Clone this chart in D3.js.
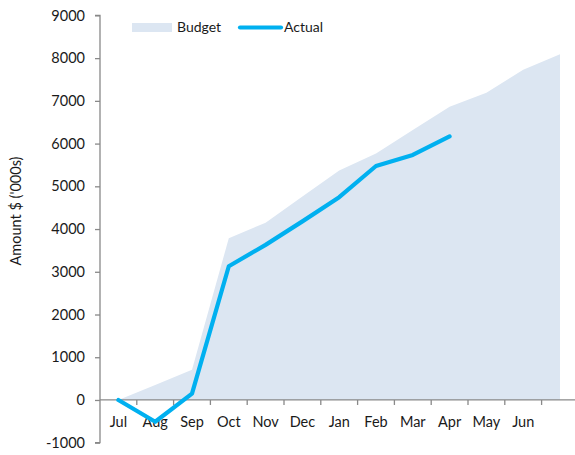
<!DOCTYPE html>
<html>
<head>
<meta charset="utf-8">
<script src="https://cdn.jsdelivr.net/npm/d3@7"></script>
<style>
  html, body { margin: 0; padding: 0; background: #fff; }
  svg { display: block; font-family: Lato, "Open Sans", sans-serif; }
</style>
</head>
<body>
<svg id="chart" width="575" height="455"></svg>
<script>
// Monthly cumulative spend, $ thousands
const months = ["Jul", "Aug", "Sep", "Oct", "Nov", "Dec", "Jan", "Feb", "Mar", "Apr", "May", "Jun", ""];
const budget = [0, 350, 705, 3785, 4150, 4760, 5370, 5770, 6320, 6860, 7190, 7730, 8090];
const actual = [0, -510, 150, 3130, 3630, 4180, 4745, 5476, 5734, 6170];
const yTicks = [-1000, 0, 1000, 2000, 3000, 4000, 5000, 6000, 7000, 8000, 9000];

const svg = d3.select("#chart");
const axisColor = "#898989";
const textColor = "#1a1a1a";

const x = d3.scaleBand().domain(months.map((m, i) => i)).range([100, 578.4]).padding(0);
const y = d3.scaleLinear().domain([-1000, 9000]).range([442.7, 15.4]);
const cx = i => x(i) + x.bandwidth() / 2;

// Budget area
const area = d3.area()
  .x((d, i) => cx(i))
  .y0(y(0))
  .y1(d => y(d));
svg.append("path")
  .datum(budget)
  .attr("d", area)
  .attr("fill", "#dce6f2");

// Y axis
const yAxis = svg.append("g")
  .attr("transform", "translate(100,0)")
  .call(d3.axisLeft(y).tickValues(yTicks).tickSize(5).tickPadding(10).tickFormat(d => String(d)));
yAxis.select(".domain").attr("stroke", axisColor).attr("stroke-width", 1.3).attr("d", `M-5,${y(-1000)}H0V${y(9000)}H-5`);
yAxis.selectAll(".tick line").attr("stroke", axisColor).attr("stroke-width", 1.3);
yAxis.selectAll(".tick text").attr("fill", textColor).style("font-size", "14.5px").style("font-family", "Lato, sans-serif");

// X axis at zero, ticks on category boundaries
const xAxis = svg.append("g")
  .attr("transform", `translate(0,${y(0)})`);
xAxis.append("line")
  .attr("x1", 100).attr("x2", 578.4)
  .attr("stroke", axisColor).attr("stroke-width", 1.3);
xAxis.selectAll("line.tk")
  .data(months.map((m, i) => i).slice(1))
  .join("line")
  .attr("class", "tk")
  .attr("x1", i => x(i)).attr("x2", i => x(i))
  .attr("y1", 0).attr("y2", 5)
  .attr("stroke", axisColor).attr("stroke-width", 1.3);
xAxis.selectAll("text")
  .data(months)
  .join("text")
  .attr("x", (d, i) => cx(i))
  .attr("y", 27)
  .attr("text-anchor", "middle")
  .attr("fill", textColor)
  .style("font-size", "14.5px")
  .text(d => d);

// Actual line
const line = d3.line()
  .x((d, i) => cx(i))
  .y(d => y(d));
svg.append("path")
  .datum(actual)
  .attr("d", line)
  .attr("fill", "none")
  .attr("stroke", "#00b0f0")
  .attr("stroke-width", 4.2)
  .attr("stroke-linejoin", "round")
  .attr("stroke-linecap", "round");

// Y axis title
svg.append("text")
  .attr("transform", "translate(21,211) rotate(-90)")
  .attr("text-anchor", "middle")
  .attr("fill", textColor)
  .style("font-size", "14.5px")
  .text("Amount $ ('000s)");

// Legend
const legend = svg.append("g");
legend.append("rect")
  .attr("x", 132).attr("y", 23).attr("width", 40).attr("height", 9)
  .attr("fill", "#dce6f2");
legend.append("text")
  .attr("x", 177).attr("y", 32)
  .attr("fill", textColor)
  .style("font-size", "14px")
  .text("Budget");
legend.append("line")
  .attr("x1", 240).attr("x2", 281).attr("y1", 27.5).attr("y2", 27.5)
  .attr("stroke", "#00b0f0").attr("stroke-width", 4.2).attr("stroke-linecap", "round");
legend.append("text")
  .attr("x", 284).attr("y", 32)
  .attr("fill", textColor)
  .style("font-size", "14px")
  .text("Actual");
</script>
</body>
</html>
